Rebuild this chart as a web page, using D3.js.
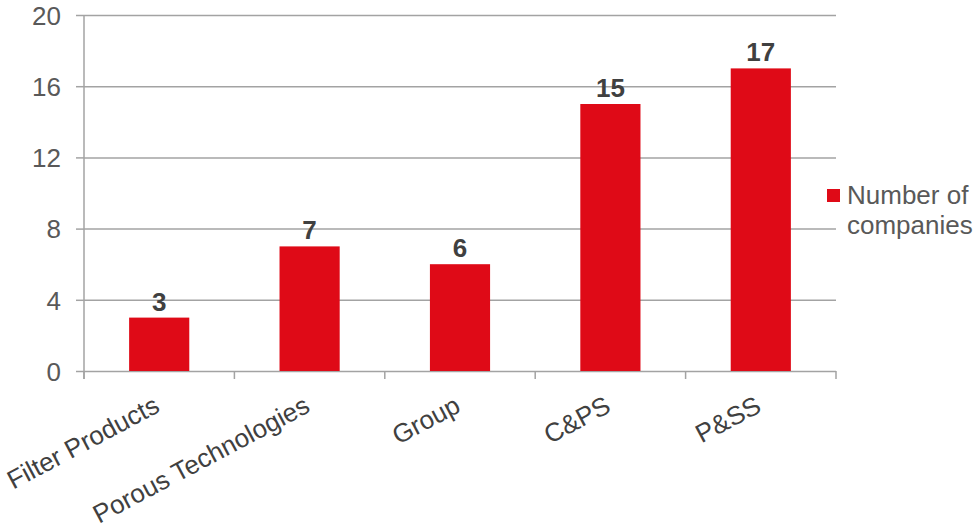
<!DOCTYPE html>
<html>
<head>
<meta charset="utf-8">
<script src="https://cdn.jsdelivr.net/npm/d3@7"></script>
<style>
  html, body { margin: 0; padding: 0; background: #fff; }
  svg { display: block; }
  svg text { font-family: "Liberation Sans", Arial, sans-serif; }
</style>
</head>
<body>
<svg id="chart" width="975" height="530"></svg>
<script>
// Companies per business segment
const categories = ["Filter Products", "Porous Technologies", "Group", "C&PS", "P&SS"];
const companies = [3, 7, 6, 15, 17];
const yTicks = [0, 4, 8, 12, 16, 20];
const seriesName = ["Number of", "companies"];

const svg = d3.select("#chart");
const margin = { left: 84, right: 139, top: 15, bottom: 159 };
const W = 975, H = 530;
const fontSize = "26px";
const barColor = "#df0a17";

const x = d3.scaleBand()
  .domain(categories)
  .range([margin.left, W - margin.right])
  .paddingInner(0.6)
  .paddingOuter(0.3);

const y = d3.scaleLinear()
  .domain([0, 20])
  .range([H - margin.bottom, margin.top]);

const gridColor = "#a3a3a3";

// horizontal gridlines with short outer ticks
const yAxis = svg.append("g")
  .attr("transform", `translate(${margin.left},0)`)
  .call(d3.axisLeft(y).tickValues(yTicks).tickSize(8).tickPadding(15))
  .call(g => g.select(".domain").remove());
yAxis.selectAll(".tick line").attr("stroke", gridColor).attr("stroke-width", 1.5);
yAxis.selectAll(".tick").append("line")
  .attr("x1", 0).attr("x2", W - margin.right - margin.left)
  .attr("stroke", gridColor).attr("stroke-width", 1.5);
yAxis.selectAll(".tick text")
  .attr("fill", "#595959").style("font-size", fontSize)
  .attr("dy", "0.36em");

// vertical axis line
svg.append("line")
  .attr("x1", margin.left).attr("x2", margin.left)
  .attr("y1", y(20)).attr("y2", y(0) + 8)
  .attr("stroke", gridColor).attr("stroke-width", 1.5);

// category boundary ticks under the baseline
const bounds = d3.range(categories.length + 1)
  .map(i => margin.left + i * (W - margin.right - margin.left) / categories.length);
svg.append("g").selectAll("line").data(bounds).join("line")
  .attr("x1", d => d).attr("x2", d => d)
  .attr("y1", y(0)).attr("y2", y(0) + 8)
  .attr("stroke", gridColor).attr("stroke-width", 1.5);

// bars
svg.append("g").selectAll("rect").data(categories).join("rect")
  .attr("x", d => x(d))
  .attr("width", x.bandwidth())
  .attr("y", (d, i) => y(companies[i]))
  .attr("height", (d, i) => y(0) - y(companies[i]))
  .attr("fill", barColor);

// value labels
svg.append("g").selectAll("text").data(categories).join("text")
  .attr("x", d => x(d) + x.bandwidth() / 2)
  .attr("y", (d, i) => y(companies[i]) - 7)
  .attr("text-anchor", "middle")
  .attr("fill", "#404040")
  .style("font-size", fontSize)
  .style("font-weight", "bold")
  .text((d, i) => companies[i]);

// rotated category labels
svg.append("g").selectAll("text").data(categories).join("text")
  .attr("transform", d => `translate(${x(d) + x.bandwidth() / 2 + 2},${y(0) + 40}) rotate(-28)`)
  .attr("text-anchor", "end")
  .attr("fill", "#404040")
  .style("font-size", fontSize)
  .text(d => d);

// legend
const lg = svg.append("g");
lg.append("rect")
  .attr("x", 827).attr("y", 189).attr("width", 13).attr("height", 13)
  .attr("fill", barColor);
lg.append("text")
  .attr("fill", "#595959").style("font-size", fontSize)
  .selectAll("tspan").data(seriesName).join("tspan")
  .attr("x", 847).attr("y", (d, i) => 204 + i * 30)
  .text(d => d);
</script>
</body>
</html>
